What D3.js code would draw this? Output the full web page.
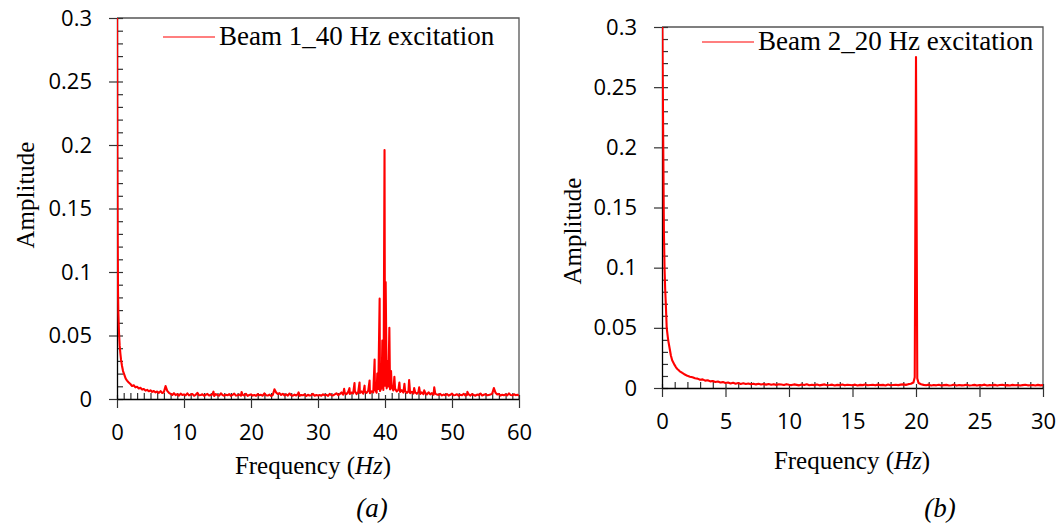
<!DOCTYPE html>
<html>
<head>
<meta charset="utf-8">
<script src="https://cdn.jsdelivr.net/npm/d3@7"></script>
<style>
  html, body { margin: 0; padding: 0; background: #fff; }
</style>
</head>
<body>
<div id="main-container"></div>
<script>
const WIDTH = 1058
const HEIGHT = 526
const LINE_COLOR = '#ff0000'
const AXIS_COLOR = '#000'
const FRAME_COLOR = '#555'
const TICK_FONT = '"Open Sans", sans-serif'
const TEXT_FONT = '"Liberation Serif", "Times New Roman", serif'

// Beam 1 (40 Hz excitation)
const BEAM1_LEGEND = 'Beam 1_40 Hz excitation'
const BEAM1_X_TICKS = [0, 10, 20, 30, 40, 50, 60]
const BEAM1_Y_TICKS = [0, 0.05, 0.1, 0.15, 0.2, 0.25, 0.3]
// low-frequency decay, [Hz, amplitude]
const BEAM1_DECAY = [
  [0, 0.34], [0.03, 0.26], [0.06, 0.19], [0.1, 0.13], [0.15, 0.085], [0.2, 0.068],
  [0.3, 0.052], [0.4, 0.042], [0.5, 0.036], [0.6, 0.031], [0.75, 0.026], [0.9, 0.022],
  [1.1, 0.019], [1.3, 0.016], [1.5, 0.0145], [1.75, 0.013], [2.0, 0.0118], [2.25, 0.0102],
  [2.5, 0.0108], [2.75, 0.0092], [3.0, 0.0096], [3.25, 0.0083], [3.5, 0.0088], [3.75, 0.0074],
  [4.0, 0.0079], [4.25, 0.0066], [4.5, 0.0072], [4.75, 0.0061], [5.0, 0.0068], [5.25, 0.0056],
  [5.5, 0.0063], [5.75, 0.0052], [6.0, 0.0059], [6.25, 0.0048], [6.5, 0.0062], [6.75, 0.0047],
  [7.0, 0.0055], [7.25, 0.0102], [7.5, 0.0064], [7.75, 0.0049]
]
// noise floor from 8 Hz every 0.25 Hz, values in 1e-3
const BEAM1_FLOOR_START = 8
const BEAM1_FLOOR_STEP = 0.25
const BEAM1_FLOOR = [
  4.1, 3.2, 4.6, 3.0, 3.8, 2.7, 4.2, 3.1, 3.6, 2.9, 4.4, 2.8, 3.5, 3.9, 2.6, 3.3, 4.8, 2.9, 3.1, 3.7,
  2.5, 3.4, 4.0, 2.8, 3.2, 3.6, 2.4, 3.9, 3.0, 2.7, 4.5, 3.1, 2.6, 3.4, 2.9, 3.8, 2.5, 3.2, 4.2, 2.7,
  3.0, 3.5, 2.6, 3.3, 2.8, 4.1, 2.5, 3.1, 3.6,
  2.7, 3.2, 2.5, 3.8, 2.9, 3.3, 2.6, 4.4, 3.0, 2.7, 3.5, 2.4, 3.1, 7.6, 5.2, 3.9, 4.6, 3.2, 4.1, 2.8,
  3.6, 2.7, 4.3, 3.0, 2.6, 3.4, 2.8, 3.9, 2.5, 3.1, 2.9, 3.6, 2.4, 3.3, 2.7, 3.0, 4.0, 2.6, 3.2, 2.8,
  3.1, 2.6, 3.7, 2.9, 3.3, 2.5, 4.1, 3.0, 2.8, 3.6, 4.5, 3.1, 3.9, 5.2, 3.4,
  4.6, 3.8, 5.5, 4.0, 5.1, 4.4, 6.2, 3.9, 5.4, 4.7, 6.0, 4.2, 5.8, 4.9, 6.6, 4.5, 6.1, 5.2, 7.4, 5.0,
  7.9, 6.3, 9.2, 7.1, 10.5, 8.4, 9.8, 7.6, 9.1, 6.8, 8.2, 6.0, 7.3, 5.6, 6.9, 5.1, 6.4, 4.8, 6.0, 4.5,
  5.7, 4.3, 5.4, 4.1, 5.9, 4.0, 5.2, 3.8, 4.9, 3.6, 5.3, 3.7, 4.6, 3.4, 4.2, 3.5,
  3.2, 4.0, 2.8, 3.5, 3.0, 3.9, 2.7, 3.3, 4.2, 2.9, 3.1, 3.7, 2.6, 3.4, 3.0, 4.1, 2.8, 3.2, 3.6, 2.7,
  3.9, 3.1, 2.6, 3.5, 3.0, 4.3, 2.8, 3.3, 3.8, 2.9, 3.2, 3.5, 4.2, 8.6, 4.9, 3.5, 4.0, 2.7, 3.4, 3.0,
  3.6, 2.8, 4.4, 3.2, 2.9, 3.7, 3.0, 3.3, 2.7
]
// peaks and sidebands round 40 Hz, [Hz, amplitude]
const BEAM1_PEAKS = [
  [14.4, 0.0058], [18.6, 0.0055], [27.1, 0.0052], [33.9, 0.008], [34.7, 0.0085], [35.45, 0.0126],
  [36.2, 0.013], [36.95, 0.0105], [37.7, 0.0146], [38.45, 0.031], [38.85, 0.02], [39.2, 0.079],
  [39.6, 0.046], [39.8, 0.028], [39.93, 0.196], [40.1, 0.092], [40.35, 0.03], [40.65, 0.056],
  [40.9, 0.022], [41.4, 0.0175], [42.15, 0.013], [42.9, 0.012], [43.6, 0.015], [44.35, 0.0086],
  [45.1, 0.0092], [45.85, 0.0068], [47.35, 0.0092], [52.3, 0.0056]
]

// Beam 2 (20 Hz excitation)
const BEAM2_LEGEND = 'Beam 2_20 Hz excitation'
const BEAM2_X_TICKS = [0, 5, 10, 15, 20, 25, 30]
const BEAM2_Y_TICKS = [0, 0.05, 0.1, 0.15, 0.2, 0.25, 0.3]
const BEAM2_DECAY = [
  [0, 0.34], [0.05, 0.27], [0.1, 0.2], [0.15, 0.13], [0.2, 0.1], [0.25, 0.082], [0.3, 0.07],
  [0.37, 0.05], [0.45, 0.043], [0.5, 0.039], [0.6, 0.033], [0.7, 0.027], [0.8, 0.023], [0.9, 0.021],
  [1.0, 0.019], [1.1, 0.0172], [1.2, 0.0158], [1.3, 0.0149], [1.4, 0.0138], [1.5, 0.0132],
  [1.6, 0.0125], [1.8, 0.0112], [2.0, 0.0101], [2.2, 0.0094], [2.4, 0.0089], [2.6, 0.0081],
  [2.8, 0.0078], [3.0, 0.0069], [3.2, 0.0072], [3.4, 0.0061], [3.6, 0.0064], [3.8, 0.0055],
  [4.0, 0.0058], [4.2, 0.005], [4.4, 0.0054], [4.6, 0.0046], [4.8, 0.0049]
]
// from 5 Hz every 0.2 Hz, values in 1e-3 (spike at 20 Hz)
const BEAM2_FLOOR_START = 5
const BEAM2_FLOOR_STEP = 0.2
const BEAM2_FLOOR = [
  4.2, 4.6, 3.8, 4.4, 3.6, 4.1, 3.4, 3.9, 3.3, 3.7, 3.1, 3.6, 3.0, 3.5, 2.9, 3.4, 2.8, 3.3, 2.7, 3.2,
  2.6, 3.1, 2.9, 2.5, 3.2, 2.7,
  2.4, 3.0, 2.6, 2.2, 2.9, 2.5, 3.1, 2.3, 2.7, 2.4, 2.9, 2.2, 2.6, 3.0, 2.3, 2.5, 2.8, 2.1, 2.6, 2.4,
  2.9, 2.2, 2.7, 2.5, 2.3, 2.8, 2.1, 2.6, 2.4, 2.9, 2.3, 2.5, 2.7, 2.2, 2.8, 2.4, 2.6, 2.1, 2.9, 2.3,
  2.5, 2.7, 2.4, 2.8, 3.0, 2.6, 3.2, 3.5, 4.6, 275,
  4.2, 3.1, 2.6, 2.3, 2.8, 2.1, 2.5, 2.2, 2.7, 2.0, 2.4, 2.6, 2.1, 2.3, 2.8, 2.0, 2.5, 2.2, 2.4, 2.7,
  2.1, 2.3, 2.6, 2.0, 2.5, 2.2, 2.8, 2.1, 2.4, 2.3, 2.6, 2.0, 2.5, 2.7, 2.2, 2.4, 2.1, 2.6, 2.3, 2.5,
  2.0, 2.4, 2.7, 2.2, 2.3, 2.5, 2.1, 2.6, 2.2, 2.4
]
const BEAM2_PEAKS = [[19.9, 0.009], [20.1, 0.008]]

const PANELS = [
  {
    id: 'a', legend: BEAM1_LEGEND, xTicks: BEAM1_X_TICKS, yTicks: BEAM1_Y_TICKS, xMinor: 1,
    decay: BEAM1_DECAY, floor: BEAM1_FLOOR, floorStart: BEAM1_FLOOR_START, floorStep: BEAM1_FLOOR_STEP,
    peaks: BEAM1_PEAKS,
    left: 117, right: 519, top: 18, bottom: 399,
    yTitle: [25, 195], xTitle: [313, 474], tag: [372, 517], legendPos: [163, 37]
  },
  {
    id: 'b', legend: BEAM2_LEGEND, xTicks: BEAM2_X_TICKS, yTicks: BEAM2_Y_TICKS, xMinor: 1,
    decay: BEAM2_DECAY, floor: BEAM2_FLOOR, floorStart: BEAM2_FLOOR_START, floorStep: BEAM2_FLOOR_STEP,
    peaks: BEAM2_PEAKS,
    left: 662, right: 1043, top: 27, bottom: 388,
    yTitle: [572, 231], xTitle: [852, 469], tag: [940, 517], legendPos: [702, 42]
  }
]

const SVG = d3.select('#main-container')
  .append('svg')
  .attr('width', WIDTH)
  .attr('height', HEIGHT)
  .style('display', 'block')

const fmt = d => String(+d.toFixed(2))

const drawPanel = (p) => {
  const xMax = p.xTicks[p.xTicks.length - 1]
  const yMax = p.yTicks[p.yTicks.length - 1]
  const X = d3.scaleLinear().domain([0, xMax]).range([p.left, p.right])
  const Y = d3.scaleLinear().domain([0, yMax]).range([p.bottom, p.top])

  const series = p.decay
    .concat(p.floor.map((v, i) => [p.floorStart + i * p.floorStep, v / 1000]))
    .concat(p.peaks)
    .sort((a, b) => a[0] - b[0])

  const g = SVG.append('g').attr('id', `panel-${p.id}`)

  // frame (top and right)
  g.append('path')
    .attr('d', `M${p.left},${p.top}H${p.right}V${p.bottom}`)
    .attr('fill', 'none')
    .attr('stroke', FRAME_COLOR)
    .attr('stroke-width', 1.3)

  // minor ticks, inside
  const xMinorTicks = d3.range(0, xMax + 0.001, p.xMinor).filter(v => !p.xTicks.includes(v))
  const yMinorTicks = d3.range(1, Math.round(yMax * 100)).map(v => v / 100)
    .filter(v => !p.yTicks.some(t => Math.abs(t - v) < 1e-9))

  g.append('g')
    .attr('transform', `translate(0, ${p.bottom})`)
    .call(d3.axisTop(X).tickValues(xMinorTicks).tickSize(6).tickFormat(''))
    .call(s => s.select('.domain').remove())
  g.append('g')
    .attr('transform', `translate(${p.left}, 0)`)
    .call(d3.axisRight(Y).tickValues(yMinorTicks).tickSize(6).tickFormat(''))
    .call(s => s.select('.domain').remove())

  // major ticks crossing the axis
  g.append('g')
    .attr('transform', `translate(0, ${p.bottom})`)
    .call(d3.axisTop(X).tickValues(p.xTicks).tickSize(4).tickFormat(''))
    .call(s => s.select('.domain').remove())
  g.append('g')
    .attr('transform', `translate(${p.left}, 0)`)
    .call(d3.axisRight(Y).tickValues(p.yTicks).tickSize(6).tickFormat(''))
    .call(s => s.select('.domain').remove())

  const xAxis = g.append('g')
    .attr('transform', `translate(0, ${p.bottom})`)
    .call(d3.axisBottom(X).tickValues(p.xTicks).tickSize(9).tickSizeOuter(0).tickPadding(16).tickFormat(fmt))
  const yAxis = g.append('g')
    .attr('transform', `translate(${p.left}, 0)`)
    .call(d3.axisLeft(Y).tickValues(p.yTicks).tickSize(8).tickSizeOuter(0).tickPadding(17).tickFormat(fmt))

  g.selectAll('.tick line').attr('stroke', '#333').attr('stroke-width', 1.2)
  ;[xAxis, yAxis].forEach(a => {
    a.select('.domain').attr('stroke', AXIS_COLOR).attr('stroke-width', 1.3)
    a.selectAll('text')
      .style('font-family', TICK_FONT)
      .style('font-size', '22px')
      .attr('fill', '#000')
  })

  // spectrum line
  SVG.append('clipPath').attr('id', `clip-${p.id}`)
    .append('rect')
    .attr('x', p.left)
    .attr('y', p.top)
    .attr('width', p.right - p.left)
    .attr('height', p.bottom - p.top + 2)

  const line = d3.line().x(d => X(d[0])).y(d => Y(d[1]))
  g.append('path')
    .datum(series)
    .attr('clip-path', `url(#clip-${p.id})`)
    .attr('d', line)
    .attr('fill', 'none')
    .attr('stroke', LINE_COLOR)
    .attr('stroke-width', 2.1)
    .attr('stroke-linejoin', 'round')

  // legend
  g.append('line')
    .attr('x1', p.legendPos[0]).attr('x2', p.legendPos[0] + 52)
    .attr('y1', p.legendPos[1]).attr('y2', p.legendPos[1])
    .attr('stroke', LINE_COLOR).attr('stroke-width', 1.2)
  g.append('text')
    .attr('x', p.legendPos[0] + 56)
    .attr('y', p.legendPos[1] + 8)
    .style('font-family', TEXT_FONT)
    .style('font-size', '27px')
    .text(p.legend)

  // axis titles
  g.append('text')
    .attr('transform', `translate(${p.yTitle[0]}, ${p.yTitle[1]}) rotate(-90)`)
    .attr('text-anchor', 'middle')
    .attr('dy', '0.35em')
    .style('font-family', TEXT_FONT)
    .style('font-size', '25px')
    .text('Amplitude')

  const xt = g.append('text')
    .attr('x', p.xTitle[0])
    .attr('y', p.xTitle[1])
    .attr('text-anchor', 'middle')
    .style('font-family', TEXT_FONT)
    .style('font-size', '25px')
  xt.append('tspan').text('Frequency (')
  xt.append('tspan').style('font-style', 'italic').text('Hz')
  xt.append('tspan').text(')')

  g.append('text')
    .attr('x', p.tag[0])
    .attr('y', p.tag[1])
    .attr('text-anchor', 'middle')
    .style('font-family', TEXT_FONT)
    .style('font-size', '27px')
    .style('font-style', 'italic')
    .text(`(${p.id})`)
}

PANELS.forEach(drawPanel)
</script>
</body>
</html>
